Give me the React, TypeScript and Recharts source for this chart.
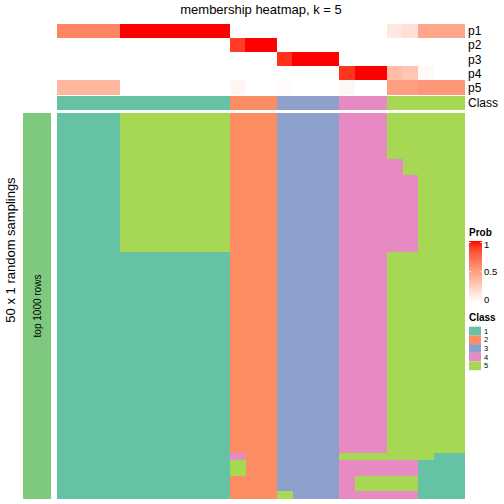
import React from 'react'
import { BarChart, Bar, Cell, XAxis, YAxis } from 'recharts'

// consensus class of each of the 26 samples (columns)
const consensusClass = [1, 1, 1, 1, 1, 1, 1, 1, 1, 1, 1, 2, 2, 2, 3, 3, 3, 3, 4, 4, 4, 5, 5, 5, 5, 5]

// membership probabilities per class
const probP1 = [0.62, 0.62, 0.62, 0.62, 1, 1, 1, 1, 1, 1, 1, 0, 0, 0, 0, 0, 0, 0, 0, 0, 0, 0.12, 0.16, 0.46, 0.46, 0.46]
const probP2 = [0, 0, 0, 0, 0, 0, 0, 0, 0, 0, 0, 0.9, 1, 1, 0, 0, 0, 0, 0, 0, 0, 0, 0, 0, 0, 0]
const probP3 = [0, 0, 0, 0, 0, 0, 0, 0, 0, 0, 0, 0, 0, 0, 0.93, 1, 1, 1, 0, 0, 0, 0, 0, 0, 0, 0]
const probP4 = [0, 0, 0, 0, 0, 0, 0, 0, 0, 0, 0, 0, 0, 0, 0, 0, 0, 0, 0.92, 1, 1, 0.35, 0.3, 0.03, 0, 0]
const probP5 = [0.38, 0.38, 0.38, 0.38, 0, 0, 0, 0, 0, 0, 0, 0.05, 0, 0, 0.02, 0, 0, 0, 0.04, 0, 0, 0.5, 0.5, 0.54, 0.54, 0.54]

const probRows = [probP1, probP2, probP3, probP4, probP5]
const rowLabels = ['p1', 'p2', 'p3', 'p4', 'p5', 'Class']

// class of each of the 50 random samplings, per column, as [class, number of rows] runs
const samplingRuns: [number, number][][] = [
  [[1, 50]],
  [[1, 50]],
  [[1, 50]],
  [[1, 50]],
  [[5, 18], [1, 32]],
  [[5, 18], [1, 32]],
  [[5, 18], [1, 32]],
  [[5, 18], [1, 32]],
  [[5, 18], [1, 32]],
  [[5, 18], [1, 32]],
  [[5, 18], [1, 32]],
  [[2, 44], [4, 1], [5, 2], [2, 3]],
  [[2, 50]],
  [[2, 50]],
  [[3, 49], [5, 1]],
  [[3, 50]],
  [[3, 50]],
  [[3, 50]],
  [[4, 44], [5, 1], [4, 5]],
  [[4, 44], [5, 1], [4, 2], [5, 2], [4, 1]],
  [[4, 44], [5, 1], [4, 2], [5, 2], [4, 1]],
  [[5, 6], [4, 12], [5, 27], [4, 2], [5, 2], [4, 1]],
  [[5, 8], [4, 10], [5, 27], [4, 2], [5, 2], [4, 1]],
  [[5, 45], [1, 5]],
  [[5, 44], [1, 6]],
  [[5, 44], [1, 6]],
]

const classColors: Record<number, string> = {
  1: '#66C2A5',
  2: '#FC8D62',
  3: '#8DA0CB',
  4: '#E78AC3',
  5: '#A6D854',
}

const FONT = '"Liberation Sans", Arial, Helvetica, sans-serif'

// white -> red interpolated in LAB space (like colorRamp2)
const probColor = (t: number) => {
  const L = 100 + (53.2408 - 100) * t
  const A = 80.0925 * t
  const B = 67.2032 * t
  const fy = (L + 16) / 116
  const fx = fy + A / 500
  const fz = fy - B / 200
  const finv = (v: number) => (v * v * v > 0.008856 ? v * v * v : (v - 16 / 116) / 7.787)
  const X = 0.95047 * finv(fx)
  const Y = finv(fy)
  const Z = 1.08883 * finv(fz)
  const lin = [
    3.2404542 * X - 1.5371385 * Y - 0.4985314 * Z,
    -0.969266 * X + 1.8760108 * Y + 0.041556 * Z,
    0.0556434 * X - 0.2040259 * Y + 1.0572252 * Z,
  ]
  const out = lin.map((c) => {
    const v = c <= 0.0031308 ? 12.92 * c : 1.055 * Math.pow(Math.max(c, 0), 1 / 2.4) - 0.055
    return Math.round(Math.min(1, Math.max(0, v)) * 255)
  })
  return `rgb(${out[0]},${out[1]},${out[2]})`
}

const annotationData = consensusClass.map((c, i) => ({ id: `s${i + 1}`, one: 1, gap: 0.07 }))

const maxRuns = Math.max(...samplingRuns.map((r) => r.length))
const samplingData = samplingRuns.map((runs, i) => {
  const row: any = { id: `s${i + 1}` }
  for (let k = 0; k < maxRuns; k++) row[`r${k}`] = runs[k] ? runs[k][1] : 0
  return row
})

const rowTicks = [0.5, 1.5, 2.5, 3.5, 4.5, 5.57]

const AnnotationChart = () => (
  <BarChart
    width={504}
    height={112}
    data={annotationData}
    margin={{ top: 24, right: 0, bottom: 2.3, left: 57 }}
    barCategoryGap={0}
    barGap={0}
  >
    <XAxis dataKey="id" hide />
    <YAxis
      orientation="right"
      type="number"
      domain={[0, 6.07]}
      reversed
      width={39}
      ticks={rowTicks}
      interval={0}
      tickLine={false}
      axisLine={false}
      tickSize={1}
      tickMargin={2}
      tick={{ fontSize: 12, fill: '#000', fontFamily: FONT }}
      tickFormatter={(v: number) => rowLabels[rowTicks.indexOf(v)]}
    />
    {probRows.map((probs, r) => (
      <Bar key={`p${r}`} dataKey="one" stackId="a" isAnimationActive={false}>
        {probs.map((p, i) => (
          <Cell key={i} fill={probColor(p)} />
        ))}
      </Bar>
    ))}
    <Bar dataKey="gap" stackId="a" fill="none" isAnimationActive={false} />
    <Bar dataKey="one" stackId="a" isAnimationActive={false}>
      {consensusClass.map((c, i) => (
        <Cell key={i} fill={classColors[c]} />
      ))}
    </Bar>
  </BarChart>
)

const SamplingChart = () => (
  <BarChart
    width={504}
    height={392}
    data={samplingData}
    margin={{ top: 1, right: 39, bottom: 5, left: 57 }}
    barCategoryGap={0}
    barGap={0}
  >
    <XAxis dataKey="id" hide />
    <YAxis type="number" domain={[0, 50]} reversed hide />
    {Array.from({ length: maxRuns }, (_, k) => (
      <Bar key={k} dataKey={`r${k}`} stackId="m" isAnimationActive={false}>
        {samplingRuns.map((runs, i) => (
          <Cell key={i} fill={runs[k] ? classColors[runs[k][0]] : 'none'} />
        ))}
      </Bar>
    ))}
  </BarChart>
)

const gradientStops = [1, 0.9, 0.8, 0.7, 0.6, 0.5, 0.4, 0.3, 0.2, 0.1, 0]

const Overlay = () => (
  <svg width={504} height={504} style={{ position: 'absolute', left: 0, top: 0, pointerEvents: 'none' }}>
    <defs>
      <linearGradient id="probGrad" x1="0" y1="0" x2="0" y2="1">
        {gradientStops.map((t, i) => (
          <stop key={i} offset={`${(1 - t) * 100}%`} stopColor={probColor(t)} />
        ))}
      </linearGradient>
    </defs>
    <text x={261} y={14} textAnchor="middle" fontSize={13} fontFamily={FONT} fill="#000">
      membership heatmap, k = 5
    </text>
    <text
      x={10}
      y={250}
      transform="rotate(-90 10 250)"
      textAnchor="middle"
      dominantBaseline="central"
      fontSize={13}
      fontFamily={FONT}
      fill="#000"
    >
      50 x 1 random samplings
    </text>
    <rect x={23} y={113} width={28} height={386} fill="#7FC97F" />
    <text
      x={37.5}
      y={306}
      transform="rotate(-90 37.5 306)"
      textAnchor="middle"
      dominantBaseline="central"
      fontSize={10}
      fontFamily={FONT}
      fill="#000"
    >
      top 1000 rows
    </text>
    <text x={469} y={236} fontSize={10} fontWeight="bold" fontFamily={FONT} fill="#000">
      Prob
    </text>
    <rect x={469} y={241} width={13} height={61} fill="url(#probGrad)" />
    <line x1={469} x2={471} y1={242.5} y2={242.5} stroke="#fff" strokeWidth={0.8} />
    <line x1={480} x2={482} y1={242.5} y2={242.5} stroke="#fff" strokeWidth={0.8} />
    <line x1={469} x2={471} y1={271.7} y2={271.7} stroke="#fff" strokeWidth={0.8} />
    <line x1={480} x2={482} y1={271.7} y2={271.7} stroke="#fff" strokeWidth={0.8} />
    <text x={484} y={244} dominantBaseline="central" fontSize={9.5} fontFamily={FONT} fill="#000">1</text>
    <text x={484} y={271.7} dominantBaseline="central" fontSize={9.5} fontFamily={FONT} fill="#000">0.5</text>
    <text x={484} y={299.7} dominantBaseline="central" fontSize={9.5} fontFamily={FONT} fill="#000">0</text>
    <text x={469} y={321} fontSize={10} fontWeight="bold" fontFamily={FONT} fill="#000">
      Class
    </text>
    {[1, 2, 3, 4, 5].map((c, i) => (
      <g key={c}>
        <rect x={469} y={326.7 + i * 8.7} width={12} height={8.7} fill={classColors[c]} />
        <text x={484} y={331 + i * 8.7} dominantBaseline="central" fontSize={7.5} fontFamily={FONT} fill="#000">
          {c}
        </text>
      </g>
    ))}
  </svg>
)

export default function App() {
  return (
    <div style={{ position: 'absolute', left: 0, top: 0, width: 504, height: 504, background: '#fff', fontFamily: FONT }}>
      <style>{`.recharts-bar-rectangle path { shape-rendering: crispEdges; }`}</style>
      <div style={{ position: 'absolute', left: 0, top: 0 }}>
        <AnnotationChart />
      </div>
      <div style={{ position: 'absolute', left: 0, top: 112 }}>
        <SamplingChart />
      </div>
      <Overlay />
    </div>
  )
}
